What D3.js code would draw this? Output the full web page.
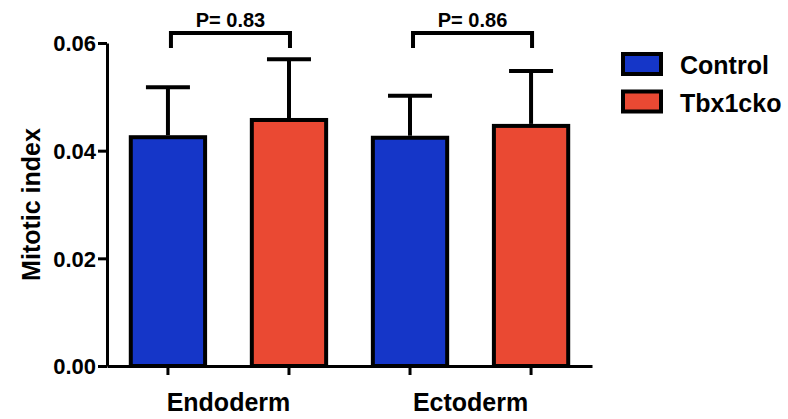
<!DOCTYPE html>
<html>
<head>
<meta charset="utf-8">
<script src="https://cdn.jsdelivr.net/npm/d3@7"></script>
<style>
  body { margin: 0; background: #fff; }
  svg text { font-family: "Liberation Sans", Arial, sans-serif; font-weight: bold; fill: #000; }
</style>
</head>
<body>
<svg id="chart" width="788" height="419"></svg>
<script>
// Data
let groups = ["Endoderm", "Ectoderm"];
let series = ["Control", "Tbx1cko"];
let controlMean = [0.0425, 0.0424];
let controlErr = [0.0093, 0.0078];
let tbxMean = [0.0457, 0.0446];
let tbxErr = [0.0113, 0.0102];
let pLabels = ["P= 0.83", "P= 0.86"];
let yTicks = [0, 0.02, 0.04, 0.06];

let colors = { "Control": "#1536c8", "Tbx1cko": "#ea4933" };

// flat list of bars, one per group/series
let bars = [];
groups.forEach(function(g, i) {
  bars.push({ group: g, series: "Control", mean: controlMean[i], err: controlErr[i] });
  bars.push({ group: g, series: "Tbx1cko", mean: tbxMean[i], err: tbxErr[i] });
});
bars.forEach(function(d) { d.key = d.group + "|" + d.series; });

let svg = d3.select("#chart");

let y = d3.scaleLinear()
  .domain([0, 0.06])
  .range([366, 43]);

let x = d3.scaleBand()
  .domain(bars.map(d => d.key))
  .range([107, 592])
  .paddingInner(0.353)
  .paddingOuter(0.18);

let half = x.bandwidth() / 2;

// Y axis
let yAxis = svg.append("g")
  .attr("transform", "translate(107,0)")
  .call(d3.axisLeft(y).tickValues(yTicks).tickFormat(d3.format(".2f")).tickSize(9).tickSizeOuter(0).tickPadding(2));
yAxis.selectAll("path, line").attr("stroke", "#000").attr("stroke-width", 3);
yAxis.selectAll("text").style("font-size", "22px").attr("dy", "0.35em");

// Bars
svg.append("g").selectAll("rect")
  .data(bars)
  .join("rect")
  .attr("x", d => x(d.key) + 2)
  .attr("y", d => y(d.mean))
  .attr("width", x.bandwidth() - 4)
  .attr("height", d => y(0) - y(d.mean))
  .attr("fill", d => colors[d.series])
  .attr("stroke", "#000")
  .attr("stroke-width", 4);

// Error bars (upper only)
let eb = svg.append("g").attr("stroke", "#000").attr("stroke-width", 4);
eb.selectAll("line.stem")
  .data(bars)
  .join("line")
  .attr("class", "stem")
  .attr("x1", d => x(d.key) + half)
  .attr("x2", d => x(d.key) + half)
  .attr("y1", d => y(d.mean) - 2)
  .attr("y2", d => y(d.mean + d.err));
eb.selectAll("line.cap")
  .data(bars)
  .join("line")
  .attr("class", "cap")
  .attr("x1", d => x(d.key) + half - 22)
  .attr("x2", d => x(d.key) + half + 22)
  .attr("y1", d => y(d.mean + d.err))
  .attr("y2", d => y(d.mean + d.err));

// X axis
let xAxis = svg.append("g")
  .attr("transform", "translate(0,366)")
  .call(d3.axisBottom(x).tickFormat("").tickSize(9).tickSizeOuter(0));
xAxis.selectAll("path, line").attr("stroke", "#000").attr("stroke-width", 3);

// Group labels
svg.append("g").selectAll("text")
  .data(groups)
  .join("text")
  .attr("x", g => (x(g + "|Control") + x(g + "|Tbx1cko")) / 2 + half)
  .attr("y", 411)
  .attr("text-anchor", "middle")
  .style("font-size", "25px")
  .text(g => g);

// Y axis title
svg.append("text")
  .attr("transform", "translate(40," + ((y(0) + y(0.06)) / 2) + ") rotate(-90)")
  .attr("text-anchor", "middle")
  .style("font-size", "25px")
  .text("Mitotic index");

// Significance brackets
let bracketY = 33;
groups.forEach(function(g, i) {
  let x1 = x(g + "|Control") + half + 3;
  let x2 = x(g + "|Tbx1cko") + half + 1;
  svg.append("path")
    .attr("d", "M" + x1 + "," + (bracketY + 15) + "V" + bracketY + "H" + x2 + "V" + (bracketY + 15))
    .attr("fill", "none")
    .attr("stroke", "#000")
    .attr("stroke-width", 4);
  svg.append("text")
    .attr("x", (x1 + x2) / 2)
    .attr("y", 27)
    .attr("text-anchor", "middle")
    .style("font-size", "20px")
    .text(pLabels[i]);
});

// Legend
let legend = svg.append("g").attr("transform", "translate(623,54)");
let li = legend.selectAll("g")
  .data(series)
  .join("g")
  .attr("transform", (d, i) => "translate(0," + (i * 37.5) + ")");
li.append("rect")
  .attr("width", 38)
  .attr("height", 20)
  .attr("fill", d => colors[d])
  .attr("stroke", "#000")
  .attr("stroke-width", 4);
li.append("text")
  .attr("x", 57)
  .attr("y", 20)
  .style("font-size", "25px")
  .text(d => d);
</script>
</body>
</html>
